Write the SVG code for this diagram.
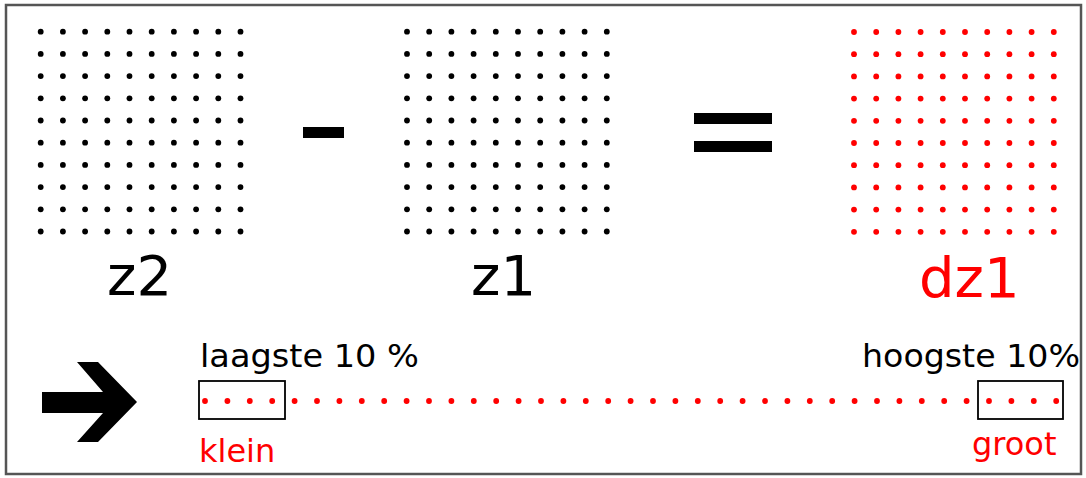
<svg xmlns="http://www.w3.org/2000/svg" xmlns:xlink="http://www.w3.org/1999/xlink" width="1086" height="478" viewBox="0 0 1086 478">
  <style>
    .lbl { font-family: "DejaVu Sans", Verdana, sans-serif; }
    .big { font-size: 56px; }
    .small { font-size: 32px; }
    .blk { fill: #000; }
    .red { fill: #ff0000; }
    .box { fill: none; stroke: #000; stroke-width: 1.8; }
  </style>
  <defs>
    <g id="row">
      <circle cx="0" cy="0" r="2.9"/>
      <circle cx="22.2" cy="0" r="2.9"/>
      <circle cx="44.4" cy="0" r="2.9"/>
      <circle cx="66.6" cy="0" r="2.9"/>
      <circle cx="88.8" cy="0" r="2.9"/>
      <circle cx="111" cy="0" r="2.9"/>
      <circle cx="133.2" cy="0" r="2.9"/>
      <circle cx="155.4" cy="0" r="2.9"/>
      <circle cx="177.6" cy="0" r="2.9"/>
      <circle cx="199.8" cy="0" r="2.9"/>
    </g>
    <g id="grid">
      <use xlink:href="#row" y="0"/>
      <use xlink:href="#row" y="22.2"/>
      <use xlink:href="#row" y="44.4"/>
      <use xlink:href="#row" y="66.6"/>
      <use xlink:href="#row" y="88.8"/>
      <use xlink:href="#row" y="111"/>
      <use xlink:href="#row" y="133.2"/>
      <use xlink:href="#row" y="155.4"/>
      <use xlink:href="#row" y="177.6"/>
      <use xlink:href="#row" y="199.8"/>
    </g>
  </defs>

  <rect x="0" y="0" width="1086" height="478" fill="#fff"/>
  <rect id="frame" x="6" y="5" width="1075" height="469" fill="none" stroke="#555" stroke-width="2.5"/>

  <g id="z2">
    <use xlink:href="#grid" transform="translate(40.7,31.7)" class="blk"/>
    <text class="lbl big blk" x="107" y="295">z2</text>
  </g>

  <g id="minus">
    <rect x="303" y="127" width="41" height="11" class="blk"/>
  </g>

  <g id="z1">
    <use xlink:href="#grid" transform="translate(407,31.7)" class="blk"/>
    <text class="lbl big blk" x="471" y="295">z1</text>
  </g>

  <g id="equals">
    <rect x="694" y="113" width="78" height="11" class="blk"/>
    <rect x="694" y="141" width="78" height="11" class="blk"/>
  </g>

  <g id="dz1">
    <use xlink:href="#grid" transform="translate(854,32)" class="red"/>
    <text class="lbl big red" x="919" y="297">dz1</text>
  </g>

  <g id="connectors">
    <polygon class="blk" points="42,392 103,392 77,362 98,362 137,402 98,442 77,442 103,413 42,413"/>
  </g>

  <g id="range" class="red">
    <circle cx="205" cy="401" r="2.9"/><circle cx="227.4" cy="401" r="2.9"/><circle cx="249.8" cy="401" r="2.9"/><circle cx="272.2" cy="401" r="2.9"/><circle cx="294.6" cy="401" r="2.9"/>
    <circle cx="317" cy="401" r="2.9"/><circle cx="339.4" cy="401" r="2.9"/><circle cx="361.8" cy="401" r="2.9"/><circle cx="384.2" cy="401" r="2.9"/><circle cx="406.6" cy="401" r="2.9"/>
    <circle cx="429" cy="401" r="2.9"/><circle cx="451.4" cy="401" r="2.9"/><circle cx="473.8" cy="401" r="2.9"/><circle cx="496.2" cy="401" r="2.9"/><circle cx="518.6" cy="401" r="2.9"/>
    <circle cx="541" cy="401" r="2.9"/><circle cx="563.4" cy="401" r="2.9"/><circle cx="585.8" cy="401" r="2.9"/><circle cx="608.2" cy="401" r="2.9"/><circle cx="630.6" cy="401" r="2.9"/>
    <circle cx="653" cy="401" r="2.9"/><circle cx="675.4" cy="401" r="2.9"/><circle cx="697.8" cy="401" r="2.9"/><circle cx="720.2" cy="401" r="2.9"/><circle cx="742.6" cy="401" r="2.9"/>
    <circle cx="765" cy="401" r="2.9"/><circle cx="787.4" cy="401" r="2.9"/><circle cx="809.8" cy="401" r="2.9"/><circle cx="832.2" cy="401" r="2.9"/><circle cx="854.6" cy="401" r="2.9"/>
    <circle cx="877" cy="401" r="2.9"/><circle cx="899.4" cy="401" r="2.9"/><circle cx="921.8" cy="401" r="2.9"/><circle cx="944.2" cy="401" r="2.9"/><circle cx="966.6" cy="401" r="2.9"/>
    <circle cx="989" cy="401" r="2.9"/><circle cx="1011.4" cy="401" r="2.9"/><circle cx="1033.8" cy="401" r="2.9"/><circle cx="1056.2" cy="401" r="2.9"/>
  </g>

  <g id="low">
    <rect class="box" x="199" y="381" width="86" height="38"/>
    <text class="lbl small blk" x="200" y="367" textLength="219" lengthAdjust="spacingAndGlyphs">laagste 10 %</text>
    <text class="lbl small red" x="199" y="462">klein</text>
  </g>

  <g id="high">
    <rect class="box" x="978" y="381" width="85" height="38"/>
    <text class="lbl small blk" x="862" y="367" textLength="218" lengthAdjust="spacingAndGlyphs">hoogste 10%</text>
    <text class="lbl small red" x="972" y="455">groot</text>
  </g>
</svg>
